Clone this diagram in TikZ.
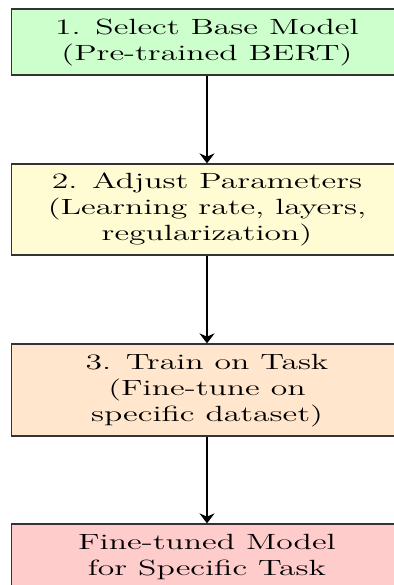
\documentclass[tikz,border=0pt]{standalone}
\usepackage{graphicx}
\usetikzlibrary{arrows.meta}
% text is set wide: lines stretched horizontally
\newcommand\widetext[1]{\scalebox{1.53}[1]{\fontsize{11}{13}\selectfont\begin{tabular}{@{}c@{}}#1\end{tabular}}}
\definecolor{stepgreen}{RGB}{204,255,204}
\definecolor{stepyellow}{RGB}{255,252,212}
\definecolor{steporange}{RGB}{255,230,204}
\definecolor{stepred}{RGB}{255,204,204}
\tikzset{
  stagebox/.style={draw=black!80, line width=0.6pt, minimum width=195.5pt, inner sep=0pt, anchor=center},
  flowarrow/.style={-{Stealth[length=5pt,width=7.5pt]}, line width=1.3pt},
}
\begin{document}
\begin{tikzpicture}[x=0.5pt, y=-0.5pt]
\useasboundingbox (0,0) rectangle (393,585);
\node[stagebox, fill=stepgreen, minimum height=33pt] (s1) at (207,42)
  {\widetext{1. Select Base Model\\(Pre-trained BERT)}};
\node[stagebox, fill=stepyellow, minimum height=45.5pt] (s2) at (207,209.5)
  {\widetext{2. Adjust Parameters\\(Learning rate, layers,\\regularization)}};
\node[stagebox, fill=steporange, minimum height=46pt] (s3) at (207,390)
  {\widetext{3. Train on Task\\(Fine-tune on\\specific dataset)}};
\node[stagebox, fill=stepred, minimum height=33pt] (s4) at (207,557)
  {\widetext{Fine-tuned Model\\for Specific Task}};
\draw[flowarrow] (s1.south) -- (s2.north);
\draw[flowarrow] (s2.south) -- (s3.north);
\draw[flowarrow] (s3.south) -- (s4.north);
\end{tikzpicture}
\end{document}
